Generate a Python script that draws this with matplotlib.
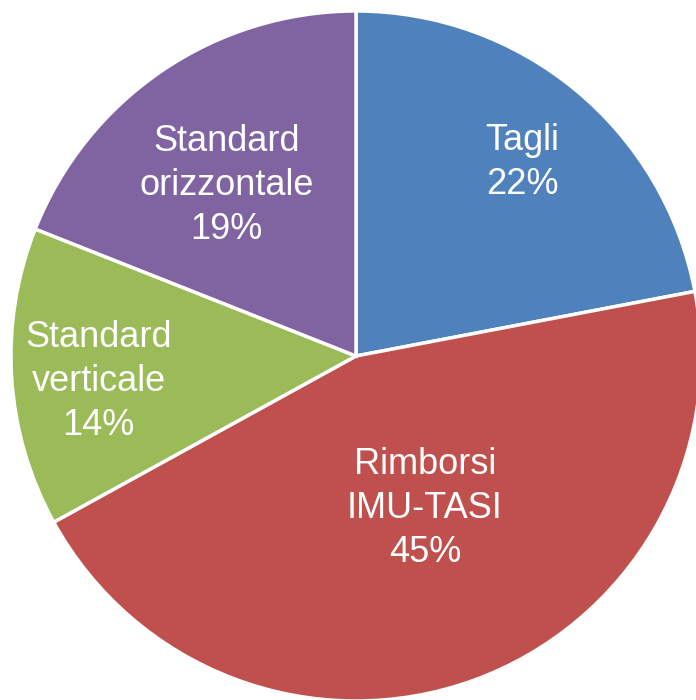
import numpy as np
import matplotlib
matplotlib.use("Agg")
import matplotlib.pyplot as plt

categories = ["Tagli", "Rimborsi\nIMU-TASI", "Standard\nverticale", "Standard\norizzontale"]
values = [22, 45, 14, 19]
colors = ["#4F81BD", "#C0504D", "#9BBB59", "#8064A2"]
label_dist = [0.74, 0.485, 0.75, 0.62]
label_shift = [-1.0, 4.5, 2.0, 3.0]  # degrees

W, H = 696, 700
fig = plt.figure(figsize=(W / 100, H / 100), dpi=100)
ax = fig.add_axes([0, 0, 1, 1])
ax.set_xlim(0, W)
ax.set_ylim(0, H)
ax.set_aspect("equal")
ax.axis("off")

cx, cy, r = 356, H - 356, 345
wedges, _ = ax.pie(values, colors=colors, startangle=90, counterclock=False,
                   center=(cx, cy), radius=r,
                   wedgeprops=dict(edgecolor="white", linewidth=2.5))
ax.set_xlim(0, W)
ax.set_ylim(0, H)

for w, cat, v, d, s in zip(wedges, categories, values, label_dist, label_shift):
    ang = np.deg2rad((w.theta1 + w.theta2) / 2 + s)
    x = cx + d * r * np.cos(ang)
    y = cy + d * r * np.sin(ang)
    ax.text(x, y, f"{cat}\n{v}%", ha="center", va="center", color="white",
            fontsize=26, family="Liberation Sans", linespacing=1.33)

fig.savefig("out.png", dpi=100)
